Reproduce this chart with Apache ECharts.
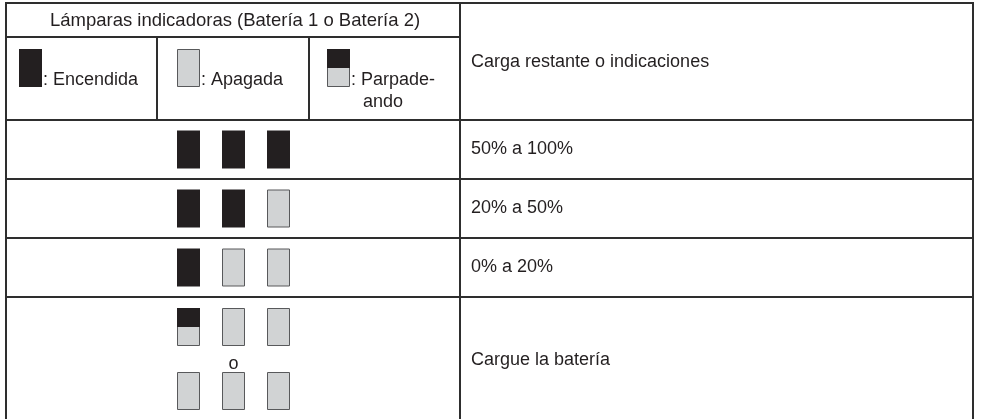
<!DOCTYPE html>
<html>
<head>
<meta charset="utf-8">
<script src="https://cdn.jsdelivr.net/npm/echarts@6/dist/echarts.min.js"></script>
<style>html,body{margin:0;padding:0;background:#fff}#c{width:981px;height:419px}</style>
</head>
<body>
<div id="c"></div>
<script>
// ---- data ----
const headerTitle = 'Lámparas indicadoras (Batería 1 o Batería 2)';
const columnTitle = 'Carga restante o indicaciones';
const legendStates = ['on', 'off', 'blink'];
const legendLabels = [': Encendida', ': Apagada', ': Parpade-\nando'];
const categories = ['50% a 100%', '20% a 50%', '0% a 20%', 'Cargue la batería'];
const row1Lamps = [['on', 'on', 'on']];
const row2Lamps = [['on', 'on', 'off']];
const row3Lamps = [['on', 'off', 'off']];
const row4Lamps = [['blink', 'off', 'off'], ['off', 'off', 'off']];
const orWord = 'o';
const lampRows = [row1Lamps, row2Lamps, row3Lamps, row4Lamps];

// ---- layout ----
const W = 981, H = 419;
const CX = [6, 157, 309, 460, 973];
const RY = [3, 37, 120, 179, 238, 297, 419];
const LAMP_W = 23, LAMP_H = 38;
const LAMP_X = [177, 222, 267];
const FONT = "'Liberation Sans', Arial, sans-serif";
const INK = '#231f20';
const OFF_FILL = '#d1d3d4';
const OFF_STROKE = '#58595b';
const LINE = '#2e2e2e';

function lampShapes(api, x, y, state) {
  const p0 = api.coord([x, y]);
  const p1 = api.coord([x + LAMP_W, y + LAMP_H]);
  const w = p1[0] - p0[0], h = p1[1] - p0[1];
  const out = [];
  if (state === 'on') {
    out.push({type: 'rect', shape: {x: p0[0], y: p0[1], width: w, height: h}, style: {fill: INK}});
  } else if (state === 'off') {
    out.push({type: 'rect', shape: {x: p0[0] + 0.5, y: p0[1] + 0.5, width: w - 1, height: h - 1}, style: {fill: OFF_FILL, stroke: OFF_STROKE, lineWidth: 1}});
  } else {
    out.push({type: 'rect', shape: {x: p0[0] + 0.5, y: p0[1] + 0.5, width: w - 1, height: h - 1}, style: {fill: OFF_FILL, stroke: OFF_STROKE, lineWidth: 1}});
    out.push({type: 'rect', shape: {x: p0[0], y: p0[1], width: w, height: Math.round(h / 2)}, style: {fill: INK}});
  }
  return out;
}

// table lines
const segs = [
  [CX[0], RY[0], CX[4], RY[0]],
  [CX[0], RY[0], CX[0], RY[6]],
  [CX[4], RY[0], CX[4], RY[6]],
  [CX[3], RY[0], CX[3], RY[6]],
  [CX[0], RY[1], CX[3], RY[1]],
  [CX[1], RY[1], CX[1], RY[2]],
  [CX[2], RY[1], CX[2], RY[2]],
  [CX[0], RY[2], CX[4], RY[2]],
  [CX[0], RY[3], CX[4], RY[3]],
  [CX[0], RY[4], CX[4], RY[4]],
  [CX[0], RY[5], CX[4], RY[5]]
];

// lamp data: [row, set, lamp, stateIndex]
const stateCodes = ['on', 'off', 'blink'];
const lampData = [];
lampRows.forEach((sets, r) => sets.forEach((lamps, s) => lamps.forEach((st, l) => lampData.push([r, s, l, stateCodes.indexOf(st)]))));

function lampTop(r, s, n) {
  const top = RY[r + 2], bot = RY[r + 3];
  if (n === 1) return (top + bot) / 2 - LAMP_H / 2;
  return top + 11 + s * 64;
}

const option = {
  animation: false,
  grid: {left: 0, right: 0, top: 0, bottom: 0},
  xAxis: {type: 'value', min: 0, max: W, show: false},
  yAxis: {type: 'value', min: 0, max: H, inverse: true, show: false},
  series: [
    {
      type: 'custom', silent: true, data: segs.map((s, i) => [i]),
      renderItem: (params, api) => {
        const s = segs[api.value(0)];
        const a = api.coord([s[0], s[1]]), b = api.coord([s[2], s[3]]);
        const isH = s[1] === s[3];
        return {type: 'line', shape: {x1: a[0] - (isH ? 1 : 0), y1: a[1] - (isH ? 0 : 1), x2: b[0] + (isH ? 1 : 0), y2: b[1]}, style: {stroke: LINE, lineWidth: 2}};
      }
    },
    {
      type: 'custom', silent: true, data: lampData,
      renderItem: (params, api) => {
        const r = api.value(0), s = api.value(1), l = api.value(2), st = stateCodes[api.value(3)];
        const y = lampTop(r, s, lampRows[r].length);
        return {type: 'group', children: lampShapes(api, LAMP_X[l], y, st)};
      }
    },
    {
      type: 'custom', silent: true, data: legendStates.map((s, i) => [i]),
      renderItem: (params, api) => {
        const i = api.value(0);
        const ix = [19, 177, 327][i];
        const children = lampShapes(api, ix, 49, legendStates[i]);
        const lines = legendLabels[i].split('\n');
        const p = api.coord([ix + LAMP_W + 1, 80]);
        children.push({type: 'text', style: {text: lines[0], x: p[0], y: p[1], fill: INK, font: '18px ' + FONT, verticalAlign: 'middle'}});
        if (lines[1]) {
          const q = api.coord([ix + LAMP_W + 13, 102]);
          children.push({type: 'text', style: {text: lines[1], x: q[0], y: q[1], fill: INK, font: '18px ' + FONT, verticalAlign: 'middle'}});
        }
        return {type: 'group', children};
      }
    },
    {
      type: 'custom', silent: true, data: categories.map((c, i) => [i]),
      renderItem: (params, api) => {
        const i = api.value(0);
        const p = api.coord([471, (RY[i + 2] + RY[i + 3]) / 2 + (i === 3 ? 2 : 0)]);
        return {type: 'text', style: {text: categories[i], x: p[0], y: p[1], fill: INK, font: '18px ' + FONT, verticalAlign: 'middle'}};
      }
    },
    {
      type: 'custom', silent: true, data: [[0]],
      renderItem: (params, api) => {
        const h = api.coord([235, 21]);
        const c = api.coord([471, 62]);
        const o = api.coord([LAMP_X[1] + LAMP_W / 2, 364]);
        return {type: 'group', children: [
          {type: 'text', style: {text: headerTitle, x: h[0], y: h[1], fill: INK, font: '18.5px ' + FONT, align: 'center', verticalAlign: 'middle'}},
          {type: 'text', style: {text: columnTitle, x: c[0], y: c[1], fill: INK, font: '18px ' + FONT, verticalAlign: 'middle'}},
          {type: 'text', style: {text: orWord, x: o[0], y: o[1], fill: INK, font: '18px ' + FONT, align: 'center', verticalAlign: 'middle'}}
        ]};
      }
    }
  ]
};
const chart = echarts.init(document.getElementById('c'), null, {renderer: 'canvas'});
chart.setOption(option);
</script>
</body>
</html>
